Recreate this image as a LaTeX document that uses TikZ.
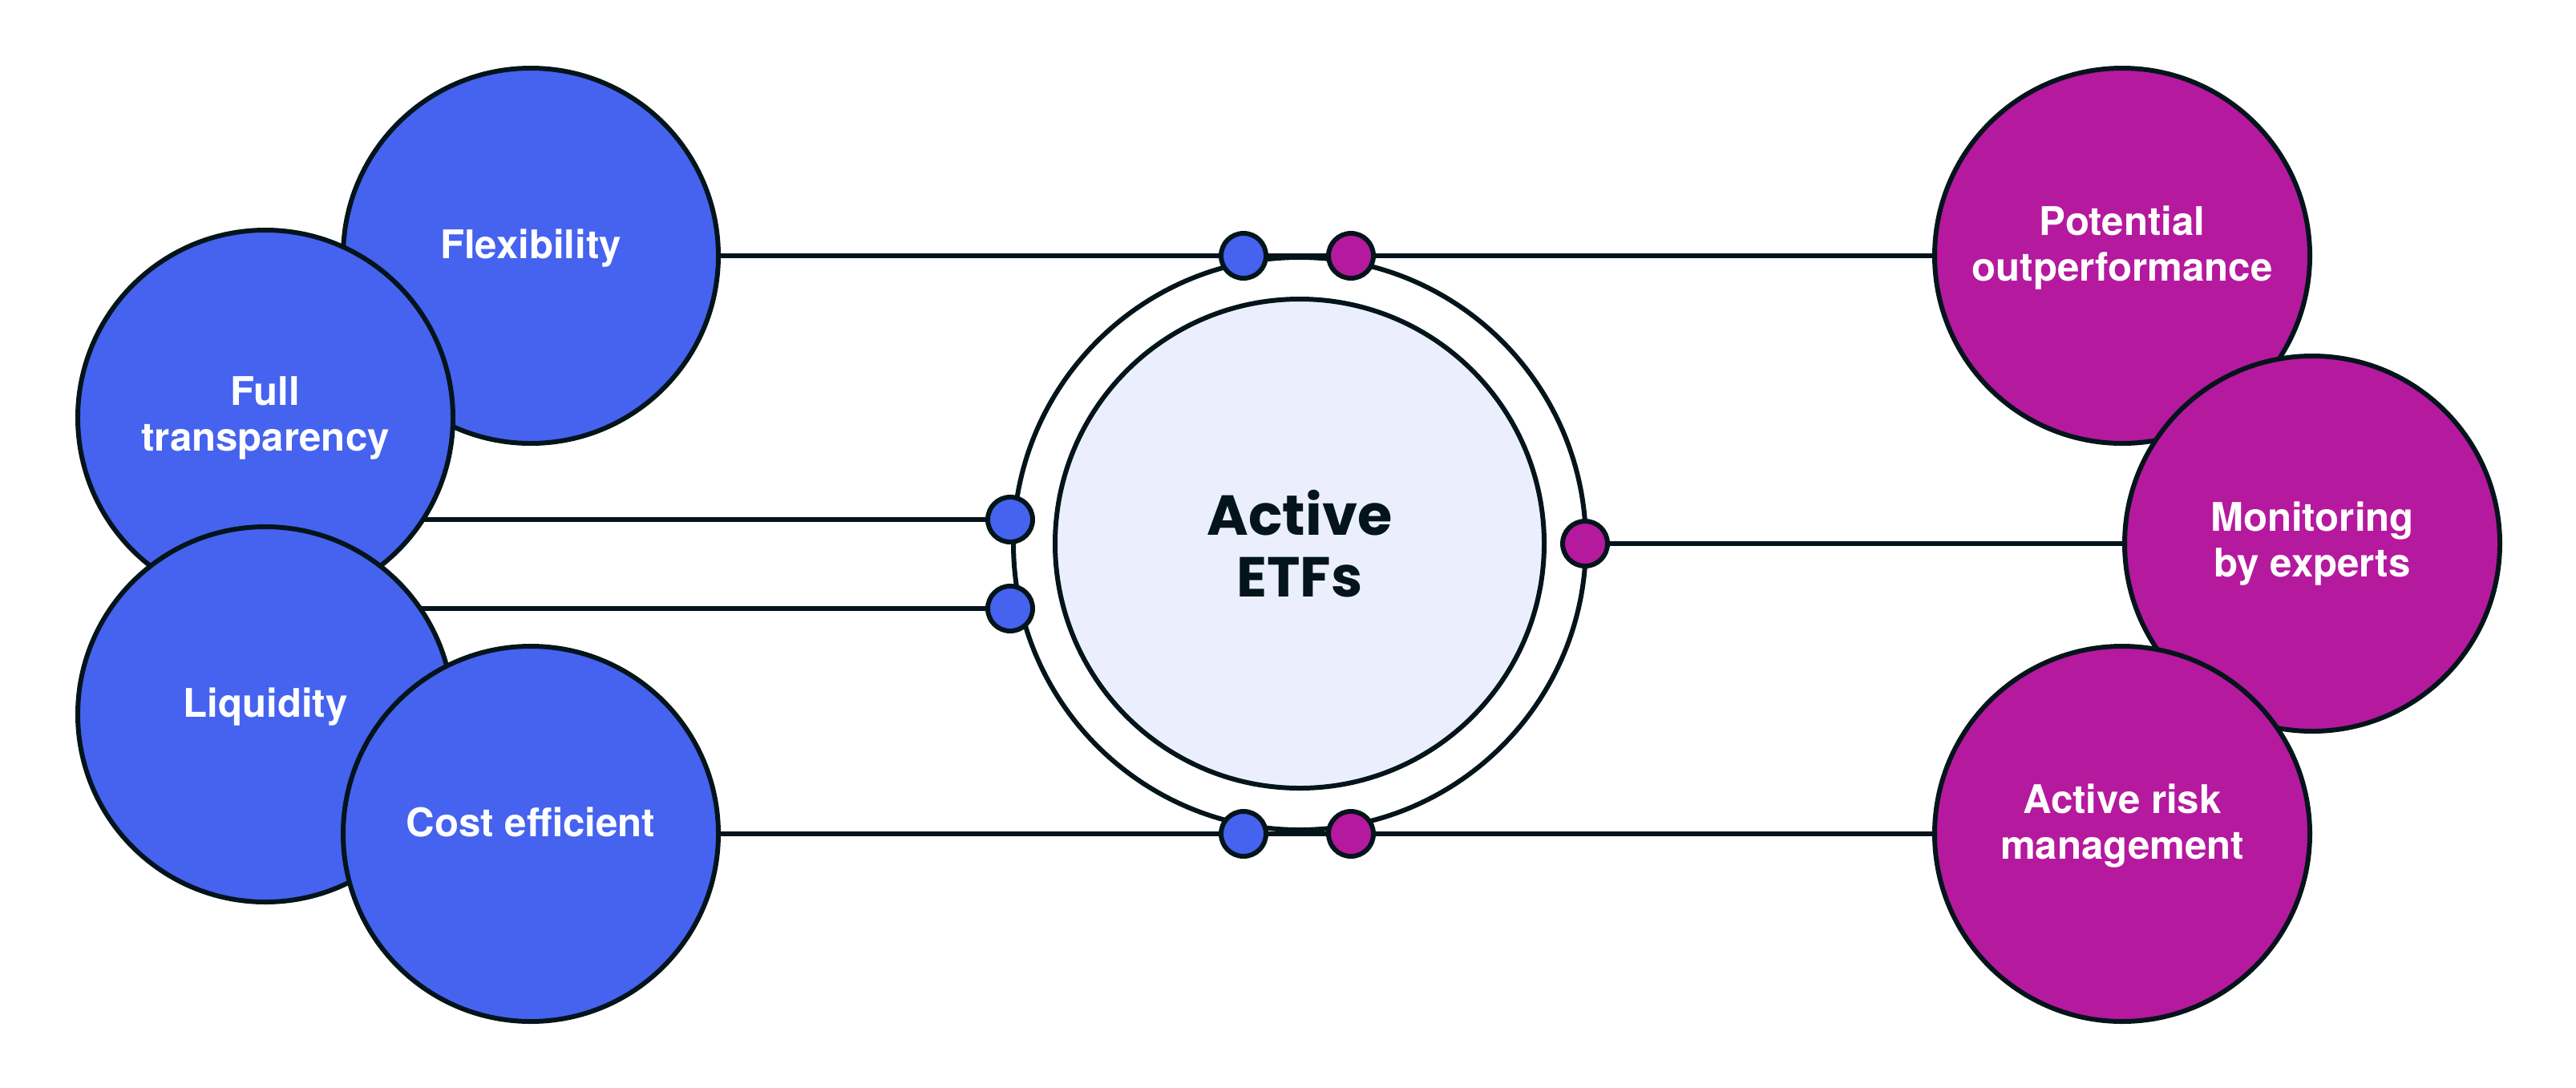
\documentclass[tikz,border=0pt]{standalone}
\usepackage{fontspec}
\setmainfont{TeX Gyre Heros}
\newfontfamily\titlefont{Poppins}
\usepackage{tikz}
\usetikzlibrary{positioning, backgrounds}
\usepackage{xcolor}
\definecolor{etfblue}{HTML}{4563EE}
\definecolor{etfpink}{HTML}{B5199E}
\definecolor{etfink}{HTML}{03141B}
\definecolor{etfcore}{HTML}{EBEFFD}

\begin{document}
\begin{tikzpicture}[
        line width=1.7pt,
        bubble/.style={circle, draw=etfink, minimum size=4.68cm, inner sep=0pt, align=center, text=white, font=\fontsize{14}{16.2}\selectfont\bfseries},
        bluebub/.style={bubble, fill=etfblue},
        pinkbub/.style={bubble, fill=etfpink},
        lift/.style={execute at end node={\rule[-8.5pt]{0pt}{0pt}}},
        knob/.style={circle, draw=etfink, minimum size=0.56cm, inner sep=0pt},
        link/.style={draw=etfink, line width=1.7pt}
      ]
        \useasboundingbox (0,0) rectangle (32.13,-13.56);

        % left side
        \node[bluebub, lift] (flex) at (6.62,-3.19)  {Flexibility};
        \node[bluebub]       (ft)   at (3.31,-5.21)  {Full\\transparency};
        \node[bluebub, lift] (liq)  at (3.31,-8.91)  {Liquidity};
        \node[bluebub, lift] (cost) at (6.62,-10.40) {Cost efficient};

        % right side
        \node[pinkbub, lift] (pot)  at (26.47,-3.19)  {Potential\\outperformance};
        \node[pinkbub]       (mon)  at (28.84,-6.78)  {Monitoring\\by experts};
        \node[pinkbub, lift] (risk) at (26.47,-10.40) {Active risk\\management};

        % centre
        \node[circle, draw=etfink, minimum size=7.14cm] (ring) at (16.21,-6.78) {};
        \node[circle, draw=etfink, fill=etfcore, minimum size=6.1cm, align=center,
              text=etfink, font=\titlefont\fontsize{20}{22}\selectfont\bfseries] (core) at (ring) {Active\\ETFs};

        \node[knob, fill=etfblue] (kt1) at (15.51,-3.19)  {};
        \node[knob, fill=etfpink] (kt2) at (16.85,-3.19)  {};
        \node[knob, fill=etfblue] (kl1) at (12.60,-6.48)  {};
        \node[knob, fill=etfblue] (kl2) at (12.60,-7.59)  {};
        \node[knob, fill=etfpink] (kr)  at (19.77,-6.78)  {};
        \node[knob, fill=etfblue] (kb1) at (15.51,-10.40) {};
        \node[knob, fill=etfpink] (kb2) at (16.85,-10.40) {};

        \begin{pgfonlayer}{background}
            \draw[link] (flex) -- (pot);
            \draw[link] (cost) -- (risk);
            \draw[link] (kr) -- (mon);
            \draw[link] (kl1) -- (kl1 -| ft.center);
            \draw[link] (kl2) -- (kl2 -| liq.center);
        \end{pgfonlayer}
    \end{tikzpicture}
\end{document}
